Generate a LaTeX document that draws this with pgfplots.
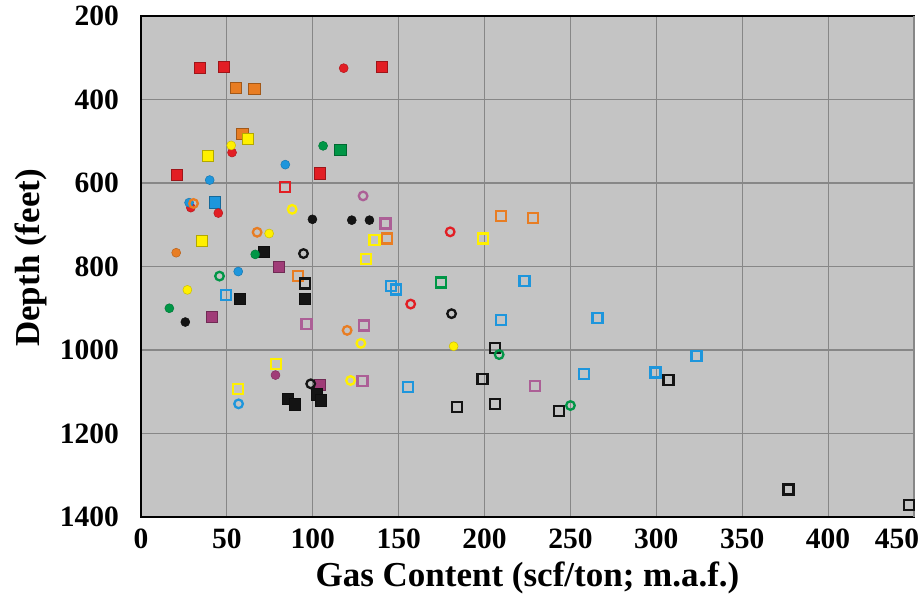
\documentclass[border=0pt]{standalone}
\usepackage{pgfplots}
\pgfplotsset{compat=1.18}
\usepackage{fontspec}
\setmainfont{Liberation Serif}
\definecolor{cred}{RGB}{226,30,36}
\definecolor{corange}{RGB}{232,125,35}
\definecolor{cyellow}{RGB}{255,240,0}
\definecolor{cgreen}{RGB}{0,150,70}
\definecolor{cblue}{RGB}{30,150,220}
\definecolor{cpurple}{RGB}{160,60,120}
\definecolor{cpurpleo}{RGB}{172,95,150}
\definecolor{cblack}{RGB}{20,20,20}
\definecolor{bggray}{RGB}{196,196,196}
\definecolor{gridgray}{RGB}{135,135,135}
\pgfplotsset{
  fsq/.style={only marks, mark=square*, mark size=5.6pt, draw=#1!70!black, fill=#1, line width=0.6pt},
  fci/.style={only marks, mark=*, mark size=4.5pt, draw=#1!80!black, fill=#1, line width=0.5pt},
  osq/.style={only marks, mark=square, mark size=5pt, draw=#1, line width=2.3pt},
  oci/.style={only marks, mark=o, mark size=4.3pt, draw=#1, line width=2.3pt},
}
\begin{document}
\begin{tikzpicture}
\useasboundingbox (-141pt,-84pt) rectangle (781pt,517pt);
\begin{axis}[
  at={(0pt,0pt)}, anchor=south west,
  scale only axis, width=773pt, height=501pt,
  xmin=0, xmax=450, ymin=200, ymax=1400, y dir=reverse,
  xtick={0,50,...,400}, extra x ticks={450},
  extra x tick style={xticklabel style={xshift=-17pt}},
  ytick={200,400,...,1400},
  grid=major, major grid style={line width=1.2pt, color=gridgray},
  axis background/.style={fill=bggray},
  axis line style={line width=2.5pt, black},
  major tick length=0pt,
  clip=false,
  /pgf/number format/assume math mode=true,
  /pgf/number format/1000 sep={},
  ticklabel style={font=\bfseries\fontsize{29.5}{30}\selectfont},
  yticklabel style={anchor=east, inner sep=0pt, xshift=-22pt},
  xticklabel style={anchor=north, inner sep=0pt, yshift=-12pt},
  xlabel={Gas Content (scf/ton; m.a.f.)},
  ylabel={Depth (feet)},
  label style={font=\bfseries\fontsize{35}{36}\selectfont},
  xlabel style={anchor=center, inner sep=0pt, at={(axis description cs:0.5,-0.122)}},
  ylabel style={anchor=center, inner sep=0pt, at={(axis description cs:-0.143,0.517)}},
]
% filled squares
\addplot[fsq=cred] coordinates {(34,325) (48,321) (140,321) (21,580) (104,577)};
\addplot[fsq=corange] coordinates {(55,372) (66,374) (59,483)};
\addplot[fsq=cyellow] coordinates {(62,494) (39,534) (35.5,738)};
\addplot[fsq=cgreen] coordinates {(116,521)};
\addplot[fsq=cblue] coordinates {(43,646)};
\addplot[fsq=cpurple] coordinates {(80.4,800) (41,920) (104,1083)};
\addplot[fsq=cblack] coordinates {(71.7,765) (57.4,877) (95.5,877) (102.3,1106) (104.7,1120.5) (85.5,1117) (89.4,1130)};
% filled circles
\addplot[fci=cred] coordinates {(118,325) (53,527) (29,659) (45,672)};
\addplot[fci=corange] coordinates {(20.5,767)};
\addplot[fci=cyellow] coordinates {(52.5,510) (74.6,721) (27,856) (182,991)};
\addplot[fci=cgreen] coordinates {(106,511) (66.5,771) (16.5,900)};
\addplot[fci=cblue] coordinates {(84,556) (40,593) (28,647) (56.6,812)};
\addplot[fci=cpurple] coordinates {(78.3,1060)};
\addplot[fci=cblack] coordinates {(99.8,687) (122.7,689) (133,689) (25.8,933)};
% open squares
\addplot[osq=cred] coordinates {(84,610)};
\addplot[osq=corange] coordinates {(143.4,733) (91.5,822) (209.5,679) (228,683)};
\addplot[osq=cyellow] coordinates {(136,737) (131,782) (199,733) (78.7,1033) (56.6,1093)};
\addplot[osq=cgreen] coordinates {(174.6,838)};
\addplot[osq=cblue] coordinates {(145.7,847) (148.6,855) (49.6,869) (209.5,928) (265.7,924) (223.3,834) (155.4,1089) (258,1057.5) (299.5,1054) (323.3,1014)};
\addplot[osq=cpurpleo] coordinates {(142.4,697) (96.3,937) (129.8,941) (129,1075) (229.5,1085.5)};
\addplot[osq=cblack] coordinates {(95.5,841) (206,994.5) (198.8,1069) (183.9,1137) (206,1128.6) (243.2,1146) (307,1072.6) (377,1334) (447,1371)};
% open circles
\addplot[oci=cred] coordinates {(180,717) (157,890)};
\addplot[oci=corange] coordinates {(30.6,649) (67.6,718) (120,953)};
\addplot[oci=cyellow] coordinates {(88,663) (128,984) (122,1073)};
\addplot[oci=cgreen] coordinates {(45.7,823) (208.5,1011) (250,1133)};
\addplot[oci=cblue] coordinates {(56.8,1129)};
\addplot[oci=cpurpleo] coordinates {(129.3,631)};
\addplot[oci=cblack] coordinates {(94.6,769) (180.8,913) (98.8,1081)};
\end{axis}
\end{tikzpicture}
\end{document}
